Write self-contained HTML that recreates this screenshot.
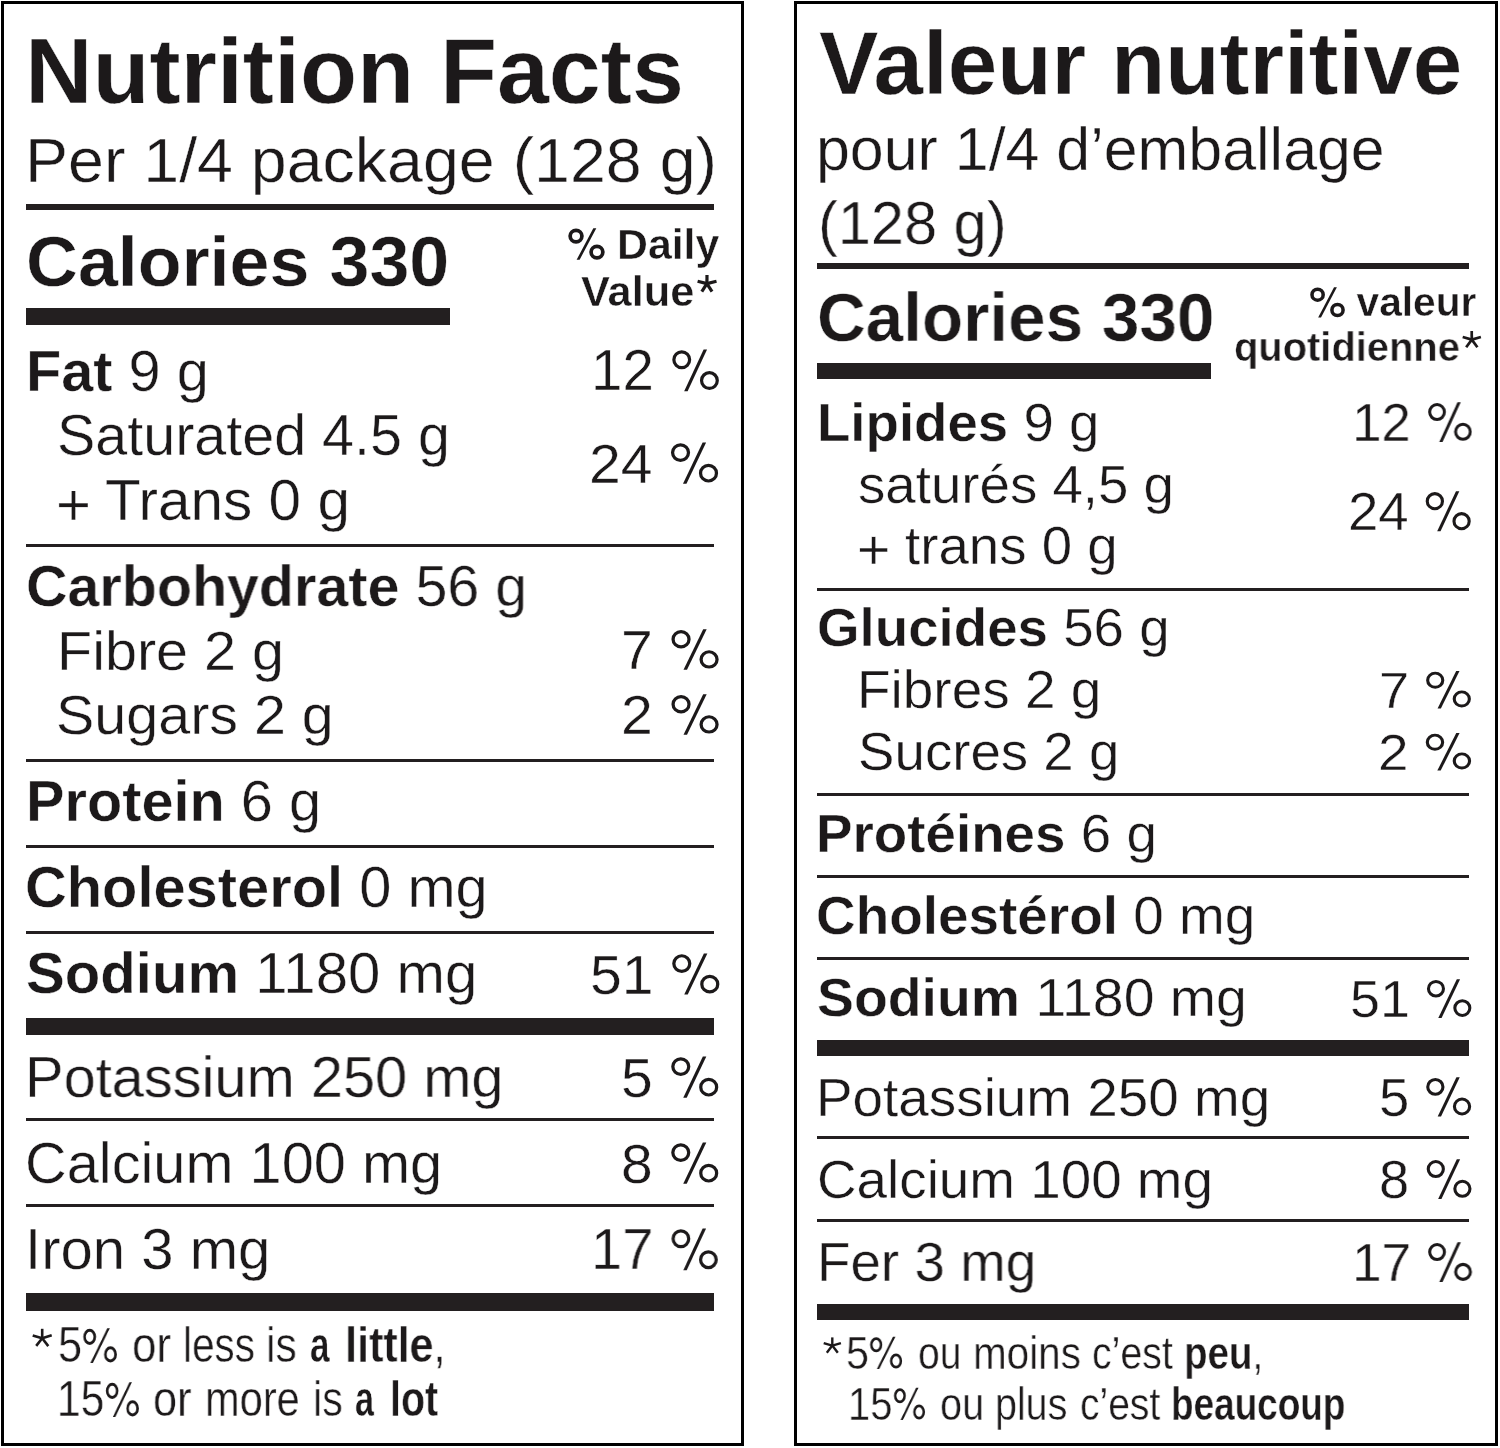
<!DOCTYPE html>
<html><head><meta charset="utf-8"><style>
html,body{margin:0;padding:0;background:#fff;}
body{width:1500px;height:1448px;position:relative;overflow:hidden;font-family:"Liberation Sans",sans-serif;color:#231f20;}
.bx{position:absolute;border:3px solid #000;box-sizing:border-box;}
.r{position:absolute;background:#231f20;}
.t{position:absolute;will-change:transform;white-space:nowrap;line-height:1;transform-origin:0 0;font-weight:400;}
.t b{font-weight:700;}
.t{-webkit-text-stroke:0.4px #fff;color:#1c191a;}
.m{display:inline-block;width:0;height:0;}
.ast{position:absolute;left:0;top:0;}
.pc{width:0.889em;height:0.8em;overflow:visible;vertical-align:baseline;}
</style></head><body>
<div class="bx" style="left:1px;top:1px;width:743px;height:1445px"></div>
<div class="bx" style="left:794px;top:1px;width:704px;height:1445px"></div>
<div class="r" style="left:26px;top:204px;width:688px;height:6px"></div>
<div class="r" style="left:26px;top:308px;width:424px;height:17px"></div>
<div class="r" style="left:26px;top:544px;width:688px;height:3px"></div>
<div class="r" style="left:26px;top:759px;width:688px;height:3px"></div>
<div class="r" style="left:26px;top:845px;width:688px;height:3px"></div>
<div class="r" style="left:26px;top:931px;width:688px;height:3px"></div>
<div class="r" style="left:26px;top:1018px;width:688px;height:17px"></div>
<div class="r" style="left:26px;top:1118px;width:688px;height:3px"></div>
<div class="r" style="left:26px;top:1204px;width:688px;height:3px"></div>
<div class="r" style="left:26px;top:1293px;width:688px;height:18px"></div>
<div class="r" style="left:817px;top:263px;width:652px;height:6px"></div>
<div class="r" style="left:817px;top:363px;width:394px;height:16px"></div>
<div class="r" style="left:817px;top:588px;width:652px;height:3px"></div>
<div class="r" style="left:817px;top:793px;width:652px;height:3px"></div>
<div class="r" style="left:817px;top:875px;width:652px;height:3px"></div>
<div class="r" style="left:817px;top:957px;width:652px;height:3px"></div>
<div class="r" style="left:817px;top:1040px;width:652px;height:16px"></div>
<div class="r" style="left:817px;top:1136px;width:652px;height:3px"></div>
<div class="r" style="left:817px;top:1219px;width:652px;height:3px"></div>
<div class="r" style="left:817px;top:1304px;width:652px;height:16px"></div>
<svg class="ast" width="1500" height="1448" viewBox="0 0 1500 1448"><g stroke="#1c191a" stroke-linecap="butt"><line x1="706.9" y1="283.6" x2="707.0" y2="274.9" stroke-width="3.2"/><line x1="706.9" y1="283.6" x2="697.6" y2="281.2" stroke-width="3.2"/><line x1="706.9" y1="283.6" x2="716.5" y2="281.2" stroke-width="3.2"/><line x1="706.9" y1="283.6" x2="701.8" y2="291.7" stroke-width="3.2"/><line x1="706.9" y1="283.6" x2="712.0" y2="291.7" stroke-width="3.2"/><line x1="1471.8" y1="339.6" x2="1471.7" y2="331.0" stroke-width="2.7"/><line x1="1471.8" y1="339.6" x2="1462.7" y2="337.0" stroke-width="2.7"/><line x1="1471.8" y1="339.6" x2="1480.9" y2="337.0" stroke-width="2.7"/><line x1="1471.8" y1="339.6" x2="1466.2" y2="347.3" stroke-width="2.7"/><line x1="1471.8" y1="339.6" x2="1477.4" y2="347.3" stroke-width="2.7"/><line x1="42.2" y1="1338.2" x2="42.2" y2="1328.8" stroke-width="2.6"/><line x1="42.2" y1="1338.2" x2="32.7" y2="1335.4" stroke-width="2.6"/><line x1="42.2" y1="1338.2" x2="51.7" y2="1335.2" stroke-width="2.6"/><line x1="42.2" y1="1338.2" x2="36.2" y2="1345.9" stroke-width="2.6"/><line x1="42.2" y1="1338.2" x2="48.3" y2="1346.1" stroke-width="2.6"/><line x1="832.3" y1="1345.6" x2="832.3" y2="1337.4" stroke-width="2.4"/><line x1="832.3" y1="1345.6" x2="823.7" y2="1343.1" stroke-width="2.4"/><line x1="832.3" y1="1345.6" x2="840.9" y2="1343.1" stroke-width="2.4"/><line x1="832.3" y1="1345.6" x2="826.8" y2="1352.7" stroke-width="2.4"/><line x1="832.3" y1="1345.6" x2="837.8" y2="1352.7" stroke-width="2.4"/></g></svg>
<div class="t" id="t0" style="left:25.49px;top:24.90px;font-size:93.24px;transform:scaleX(1.0015)"><b>Nutrition Facts</b></div>
<div class="t" id="t1" style="left:25.43px;top:129.00px;font-size:63.80px;transform:scaleX(1.0110)">Per 1/4 package (128 g)</div>
<div class="t" id="t2" style="left:25.97px;top:226.31px;font-size:71.13px;transform:scaleX(1.0102)"><b>Calories 330</b></div>
<div class="t" id="t3" style="left:566.98px;top:224.40px;font-size:41.97px;transform:scaleX(1.0204)"><b><svg class="pc" viewBox="0 -800 889 800"><circle cx="211" cy="-535" r="137.5" fill="none" stroke="currentColor" stroke-width="87"/><circle cx="700" cy="-154" r="137.5" fill="none" stroke="currentColor" stroke-width="87"/><path d="M225 31L295 31L685-720L615-720Z" fill="currentColor"/></svg> Daily</b></div>
<div class="t" id="t4" style="left:580.98px;top:270.80px;font-size:42.25px;transform:scaleX(1.0260)"><b>Value</b></div>
<div class="t" id="t5" style="left:26.41px;top:343.51px;font-size:56.48px;transform:scaleX(1.0222)"><b>Fat</b> 9 g</div>
<div class="t" id="t6" style="left:591.02px;top:343.40px;font-size:56.48px;transform:scaleX(0.9968)">12 <svg class="pc" viewBox="0 -800 889 800"><circle cx="208" cy="-539" r="139.5" fill="none" stroke="currentColor" stroke-width="57"/><circle cx="698" cy="-170" r="139.5" fill="none" stroke="currentColor" stroke-width="57"/><path d="M251 18L312 18L656-720L595-720Z" fill="currentColor"/></svg></div>
<div class="t" id="t7" style="left:56.97px;top:407.01px;font-size:57.04px;transform:scaleX(1.0073)">Saturated 4.5 g</div>
<div class="t" id="t8" style="left:55.94px;top:475.51px;font-size:59.00px;transform:scaleX(1.0151)">+</div>
<div class="t" id="t9" style="left:104.94px;top:471.51px;font-size:57.04px;transform:scaleX(1.0258)">Trans 0 g</div>
<div class="t" id="t10" style="left:588.94px;top:436.32px;font-size:55.91px;transform:scaleX(1.0212)">24 <svg class="pc" viewBox="0 -800 889 800"><circle cx="208" cy="-539" r="139.5" fill="none" stroke="currentColor" stroke-width="57"/><circle cx="698" cy="-170" r="139.5" fill="none" stroke="currentColor" stroke-width="57"/><path d="M251 18L312 18L656-720L595-720Z" fill="currentColor"/></svg></div>
<div class="t" id="t11" style="left:25.51px;top:557.91px;font-size:57.60px;transform:scaleX(0.9972)"><b>Carbohydrate</b> 56 g</div>
<div class="t" id="t12" style="left:56.81px;top:624.01px;font-size:55.63px;transform:scaleX(1.0343)">Fibre 2 g</div>
<div class="t" id="t13" style="left:620.85px;top:624.41px;font-size:54.65px;transform:scaleX(1.0467)">7 <svg class="pc" viewBox="0 -800 889 800"><circle cx="208" cy="-539" r="139.5" fill="none" stroke="currentColor" stroke-width="57"/><circle cx="698" cy="-170" r="139.5" fill="none" stroke="currentColor" stroke-width="57"/><path d="M251 18L312 18L656-720L595-720Z" fill="currentColor"/></svg></div>
<div class="t" id="t14" style="left:56.44px;top:687.10px;font-size:56.34px;transform:scaleX(1.0196)">Sugars 2 g</div>
<div class="t" id="t15" style="left:620.85px;top:688.60px;font-size:54.65px;transform:scaleX(1.0467)">2 <svg class="pc" viewBox="0 -800 889 800"><circle cx="208" cy="-539" r="139.5" fill="none" stroke="currentColor" stroke-width="57"/><circle cx="698" cy="-170" r="139.5" fill="none" stroke="currentColor" stroke-width="57"/><path d="M251 18L312 18L656-720L595-720Z" fill="currentColor"/></svg></div>
<div class="t" id="t16" style="left:25.93px;top:774.00px;font-size:56.76px;transform:scaleX(1.0170)"><b>Protein</b> 6 g</div>
<div class="t" id="t17" style="left:25.48px;top:858.70px;font-size:57.32px;transform:scaleX(1.0089)"><b>Cholesterol</b> 0 mg</div>
<div class="t" id="t18" style="left:26.49px;top:945.31px;font-size:57.75px;transform:scaleX(1.0068)"><b>Sodium</b> 1180 mg</div>
<div class="t" id="t19" style="left:589.92px;top:947.51px;font-size:55.77px;transform:scaleX(1.0244)">51 <svg class="pc" viewBox="0 -800 889 800"><circle cx="208" cy="-539" r="139.5" fill="none" stroke="currentColor" stroke-width="57"/><circle cx="698" cy="-170" r="139.5" fill="none" stroke="currentColor" stroke-width="57"/><path d="M251 18L312 18L656-720L595-720Z" fill="currentColor"/></svg></div>
<div class="t" id="t20" style="left:25.02px;top:1047.91px;font-size:58.03px;transform:scaleX(0.9958)">Potassium 250 mg</div>
<div class="t" id="t21" style="left:620.95px;top:1050.00px;font-size:55.91px;transform:scaleX(1.0196)">5 <svg class="pc" viewBox="0 -800 889 800"><circle cx="208" cy="-539" r="139.5" fill="none" stroke="currentColor" stroke-width="57"/><circle cx="698" cy="-170" r="139.5" fill="none" stroke="currentColor" stroke-width="57"/><path d="M251 18L312 18L656-720L595-720Z" fill="currentColor"/></svg></div>
<div class="t" id="t22" style="left:25.45px;top:1135.91px;font-size:56.62px;transform:scaleX(1.0199)">Calcium 100 mg</div>
<div class="t" id="t23" style="left:620.95px;top:1136.32px;font-size:55.91px;transform:scaleX(1.0196)">8 <svg class="pc" viewBox="0 -800 889 800"><circle cx="208" cy="-539" r="139.5" fill="none" stroke="currentColor" stroke-width="57"/><circle cx="698" cy="-170" r="139.5" fill="none" stroke="currentColor" stroke-width="57"/><path d="M251 18L312 18L656-720L595-720Z" fill="currentColor"/></svg></div>
<div class="t" id="t24" style="left:24.84px;top:1222.01px;font-size:56.62px;transform:scaleX(1.0262)">Iron 3 mg</div>
<div class="t" id="t25" style="left:590.55px;top:1222.20px;font-size:56.62px;transform:scaleX(0.9903)">17 <svg class="pc" viewBox="0 -800 889 800"><circle cx="208" cy="-539" r="139.5" fill="none" stroke="currentColor" stroke-width="57"/><circle cx="698" cy="-170" r="139.5" fill="none" stroke="currentColor" stroke-width="57"/><path d="M251 18L312 18L656-720L595-720Z" fill="currentColor"/></svg></div>
<div class="t" id="t26" style="left:57.94px;top:1320.10px;font-size:49.28px;transform:scaleX(0.8779)">5<svg class="pc" viewBox="0 -800 889 800"><ellipse cx="184" cy="-519" rx="118" ry="134" fill="none" stroke="currentColor" stroke-width="60"/><ellipse cx="665" cy="-163" rx="118" ry="134" fill="none" stroke="currentColor" stroke-width="60"/><path d="M200 12L258 12L649-696L591-696Z" fill="currentColor"/></svg></div>
<div class="t" id="t27" style="left:132.42px;top:1320.10px;font-size:49.28px;transform:scaleX(0.8900)">or</div>
<div class="t" id="t28" style="left:182.61px;top:1320.10px;font-size:49.28px;transform:scaleX(0.8210)">less</div>
<div class="t" id="t29" style="left:266.45px;top:1320.10px;font-size:49.28px;transform:scaleX(0.8641)">is</div>
<div class="t" id="t30" style="left:310.22px;top:1320.10px;font-size:49.28px;transform:scaleX(0.7140)"><b>a</b></div>
<div class="t" id="t31" style="left:344.91px;top:1320.10px;font-size:49.28px;transform:scaleX(0.8743)"><b>little</b>,</div>
<div class="t" id="t32" style="left:56.97px;top:1374.21px;font-size:49.28px;transform:scaleX(0.8610)">15<svg class="pc" viewBox="0 -800 889 800"><ellipse cx="184" cy="-519" rx="118" ry="134" fill="none" stroke="currentColor" stroke-width="60"/><ellipse cx="665" cy="-163" rx="118" ry="134" fill="none" stroke="currentColor" stroke-width="60"/><path d="M200 12L258 12L649-696L591-696Z" fill="currentColor"/></svg></div>
<div class="t" id="t33" style="left:153.41px;top:1374.21px;font-size:49.28px;transform:scaleX(0.8757)">or</div>
<div class="t" id="t34" style="left:205.02px;top:1374.21px;font-size:49.28px;transform:scaleX(0.8444)">more</div>
<div class="t" id="t35" style="left:312.54px;top:1374.21px;font-size:49.28px;transform:scaleX(0.8374)">is</div>
<div class="t" id="t36" style="left:355.42px;top:1374.21px;font-size:49.28px;transform:scaleX(0.6902)"><b>a</b></div>
<div class="t" id="t37" style="left:389.70px;top:1374.21px;font-size:49.28px;transform:scaleX(0.7995)"><b>lot</b></div>
<div class="t" id="t38" style="left:818.50px;top:18.81px;font-size:89.01px;transform:scaleX(1.0003)"><b>Valeur nutritive</b></div>
<div class="t" id="t39" style="left:816.46px;top:118.51px;font-size:60.28px;transform:scaleX(1.0104)">pour 1/4 d’emballage</div>
<div class="t" id="t40" style="left:817.56px;top:192.71px;font-size:60.56px;transform:scaleX(0.9826)">(128 g)</div>
<div class="t" id="t41" style="left:817.04px;top:283.20px;font-size:68.31px;transform:scaleX(0.9874)"><b>Calories 330</b></div>
<div class="t" id="t42" style="left:1308.99px;top:283.40px;font-size:40.28px;transform:scaleX(1.0110)"><b><svg class="pc" viewBox="0 -800 889 800"><circle cx="211" cy="-535" r="137.5" fill="none" stroke="currentColor" stroke-width="87"/><circle cx="700" cy="-154" r="137.5" fill="none" stroke="currentColor" stroke-width="87"/><path d="M225 31L295 31L685-720L615-720Z" fill="currentColor"/></svg> valeur</b></div>
<div class="t" id="t43" style="left:1234.03px;top:327.21px;font-size:40.70px;transform:scaleX(0.9797)"><b>quotidienne</b></div>
<div class="t" id="t44" style="left:816.92px;top:395.80px;font-size:53.52px;transform:scaleX(1.0208)"><b>Lipides</b> 9 g</div>
<div class="t" id="t45" style="left:1351.56px;top:396.11px;font-size:53.66px;transform:scaleX(0.9864)">12 <svg class="pc" viewBox="0 -800 889 800"><circle cx="208" cy="-539" r="139.5" fill="none" stroke="currentColor" stroke-width="57"/><circle cx="698" cy="-170" r="139.5" fill="none" stroke="currentColor" stroke-width="57"/><path d="M251 18L312 18L656-720L595-720Z" fill="currentColor"/></svg></div>
<div class="t" id="t46" style="left:857.94px;top:458.90px;font-size:52.82px;transform:scaleX(1.0348)">saturés 4,5 g</div>
<div class="t" id="t47" style="left:856.96px;top:522.21px;font-size:56.20px;transform:scaleX(1.0153)">+</div>
<div class="t" id="t48" style="left:904.97px;top:519.90px;font-size:52.82px;transform:scaleX(1.0348)">trans 0 g</div>
<div class="t" id="t49" style="left:1348.48px;top:484.00px;font-size:54.22px;transform:scaleX(1.0067)">24 <svg class="pc" viewBox="0 -800 889 800"><circle cx="208" cy="-539" r="139.5" fill="none" stroke="currentColor" stroke-width="57"/><circle cx="698" cy="-170" r="139.5" fill="none" stroke="currentColor" stroke-width="57"/><path d="M251 18L312 18L656-720L595-720Z" fill="currentColor"/></svg></div>
<div class="t" id="t50" style="left:817.44px;top:601.21px;font-size:53.52px;transform:scaleX(1.0219)"><b>Glucides</b> 56 g</div>
<div class="t" id="t51" style="left:857.36px;top:662.80px;font-size:53.52px;transform:scaleX(1.0271)">Fibres 2 g</div>
<div class="t" id="t52" style="left:1379.30px;top:665.61px;font-size:50.70px;transform:scaleX(1.0699)">7 <svg class="pc" viewBox="0 -800 889 800"><circle cx="208" cy="-539" r="139.5" fill="none" stroke="currentColor" stroke-width="57"/><circle cx="698" cy="-170" r="139.5" fill="none" stroke="currentColor" stroke-width="57"/><path d="M251 18L312 18L656-720L595-720Z" fill="currentColor"/></svg></div>
<div class="t" id="t53" style="left:858.43px;top:724.91px;font-size:53.52px;transform:scaleX(1.0217)">Sucres 2 g</div>
<div class="t" id="t54" style="left:1378.27px;top:727.81px;font-size:50.70px;transform:scaleX(1.0843)">2 <svg class="pc" viewBox="0 -800 889 800"><circle cx="208" cy="-539" r="139.5" fill="none" stroke="currentColor" stroke-width="57"/><circle cx="698" cy="-170" r="139.5" fill="none" stroke="currentColor" stroke-width="57"/><path d="M251 18L312 18L656-720L595-720Z" fill="currentColor"/></svg></div>
<div class="t" id="t55" style="left:816.38px;top:807.31px;font-size:53.24px;transform:scaleX(1.0285)"><b>Protéines</b> 6 g</div>
<div class="t" id="t56" style="left:815.95px;top:889.10px;font-size:53.94px;transform:scaleX(1.0179)"><b>Cholestérol</b> 0 mg</div>
<div class="t" id="t57" style="left:816.96px;top:970.32px;font-size:54.22px;transform:scaleX(1.0212)"><b>Sodium</b> 1180 mg</div>
<div class="t" id="t58" style="left:1349.91px;top:972.91px;font-size:52.53px;transform:scaleX(1.0244)">51 <svg class="pc" viewBox="0 -800 889 800"><circle cx="208" cy="-539" r="139.5" fill="none" stroke="currentColor" stroke-width="57"/><circle cx="698" cy="-170" r="139.5" fill="none" stroke="currentColor" stroke-width="57"/><path d="M251 18L312 18L656-720L595-720Z" fill="currentColor"/></svg></div>
<div class="t" id="t59" style="left:815.93px;top:1070.01px;font-size:54.08px;transform:scaleX(1.0141)">Potassium 250 mg</div>
<div class="t" id="t60" style="left:1378.93px;top:1071.00px;font-size:53.24px;transform:scaleX(1.0231)">5 <svg class="pc" viewBox="0 -800 889 800"><circle cx="208" cy="-539" r="139.5" fill="none" stroke="currentColor" stroke-width="57"/><circle cx="698" cy="-170" r="139.5" fill="none" stroke="currentColor" stroke-width="57"/><path d="M251 18L312 18L656-720L595-720Z" fill="currentColor"/></svg></div>
<div class="t" id="t61" style="left:816.96px;top:1152.21px;font-size:54.22px;transform:scaleX(1.0109)">Calcium 100 mg</div>
<div class="t" id="t62" style="left:1379.46px;top:1153.40px;font-size:53.66px;transform:scaleX(1.0114)">8 <svg class="pc" viewBox="0 -800 889 800"><circle cx="208" cy="-539" r="139.5" fill="none" stroke="currentColor" stroke-width="57"/><circle cx="698" cy="-170" r="139.5" fill="none" stroke="currentColor" stroke-width="57"/><path d="M251 18L312 18L656-720L595-720Z" fill="currentColor"/></svg></div>
<div class="t" id="t63" style="left:817.02px;top:1234.81px;font-size:54.93px;transform:scaleX(0.9972)">Fer 3 mg</div>
<div class="t" id="t64" style="left:1352.06px;top:1235.50px;font-size:53.80px;transform:scaleX(0.9864)">17 <svg class="pc" viewBox="0 -800 889 800"><circle cx="208" cy="-539" r="139.5" fill="none" stroke="currentColor" stroke-width="57"/><circle cx="698" cy="-170" r="139.5" fill="none" stroke="currentColor" stroke-width="57"/><path d="M251 18L312 18L656-720L595-720Z" fill="currentColor"/></svg></div>
<div class="t" id="t65" style="left:846.36px;top:1331.01px;font-size:45.65px;transform:scaleX(0.9038)">5<svg class="pc" viewBox="0 -800 889 800"><ellipse cx="184" cy="-519" rx="118" ry="134" fill="none" stroke="currentColor" stroke-width="60"/><ellipse cx="665" cy="-163" rx="118" ry="134" fill="none" stroke="currentColor" stroke-width="60"/><path d="M200 12L258 12L649-696L591-696Z" fill="currentColor"/></svg></div>
<div class="t" id="t66" style="left:918.48px;top:1331.01px;font-size:45.65px;transform:scaleX(0.8547)">ou</div>
<div class="t" id="t67" style="left:973.35px;top:1331.01px;font-size:45.65px;transform:scaleX(0.8861)">moins</div>
<div class="t" id="t68" style="left:1092.47px;top:1331.01px;font-size:45.65px;transform:scaleX(0.8610)">c’est</div>
<div class="t" id="t69" style="left:1184.03px;top:1331.01px;font-size:45.65px;transform:scaleX(0.8430)"><b>peu</b>,</div>
<div class="t" id="t70" style="left:848.41px;top:1382.31px;font-size:45.65px;transform:scaleX(0.8736)">15<svg class="pc" viewBox="0 -800 889 800"><ellipse cx="184" cy="-519" rx="118" ry="134" fill="none" stroke="currentColor" stroke-width="60"/><ellipse cx="665" cy="-163" rx="118" ry="134" fill="none" stroke="currentColor" stroke-width="60"/><path d="M200 12L258 12L649-696L591-696Z" fill="currentColor"/></svg></div>
<div class="t" id="t71" style="left:940.44px;top:1382.31px;font-size:45.65px;transform:scaleX(0.8681)">ou</div>
<div class="t" id="t72" style="left:995.45px;top:1382.31px;font-size:45.65px;transform:scaleX(0.8627)">plus</div>
<div class="t" id="t73" style="left:1080.00px;top:1382.31px;font-size:45.65px;transform:scaleX(0.8545)">c’est</div>
<div class="t" id="t74" style="left:1171.16px;top:1382.31px;font-size:45.65px;transform:scaleX(0.8089)"><b>beaucoup</b></div>
</body></html>
